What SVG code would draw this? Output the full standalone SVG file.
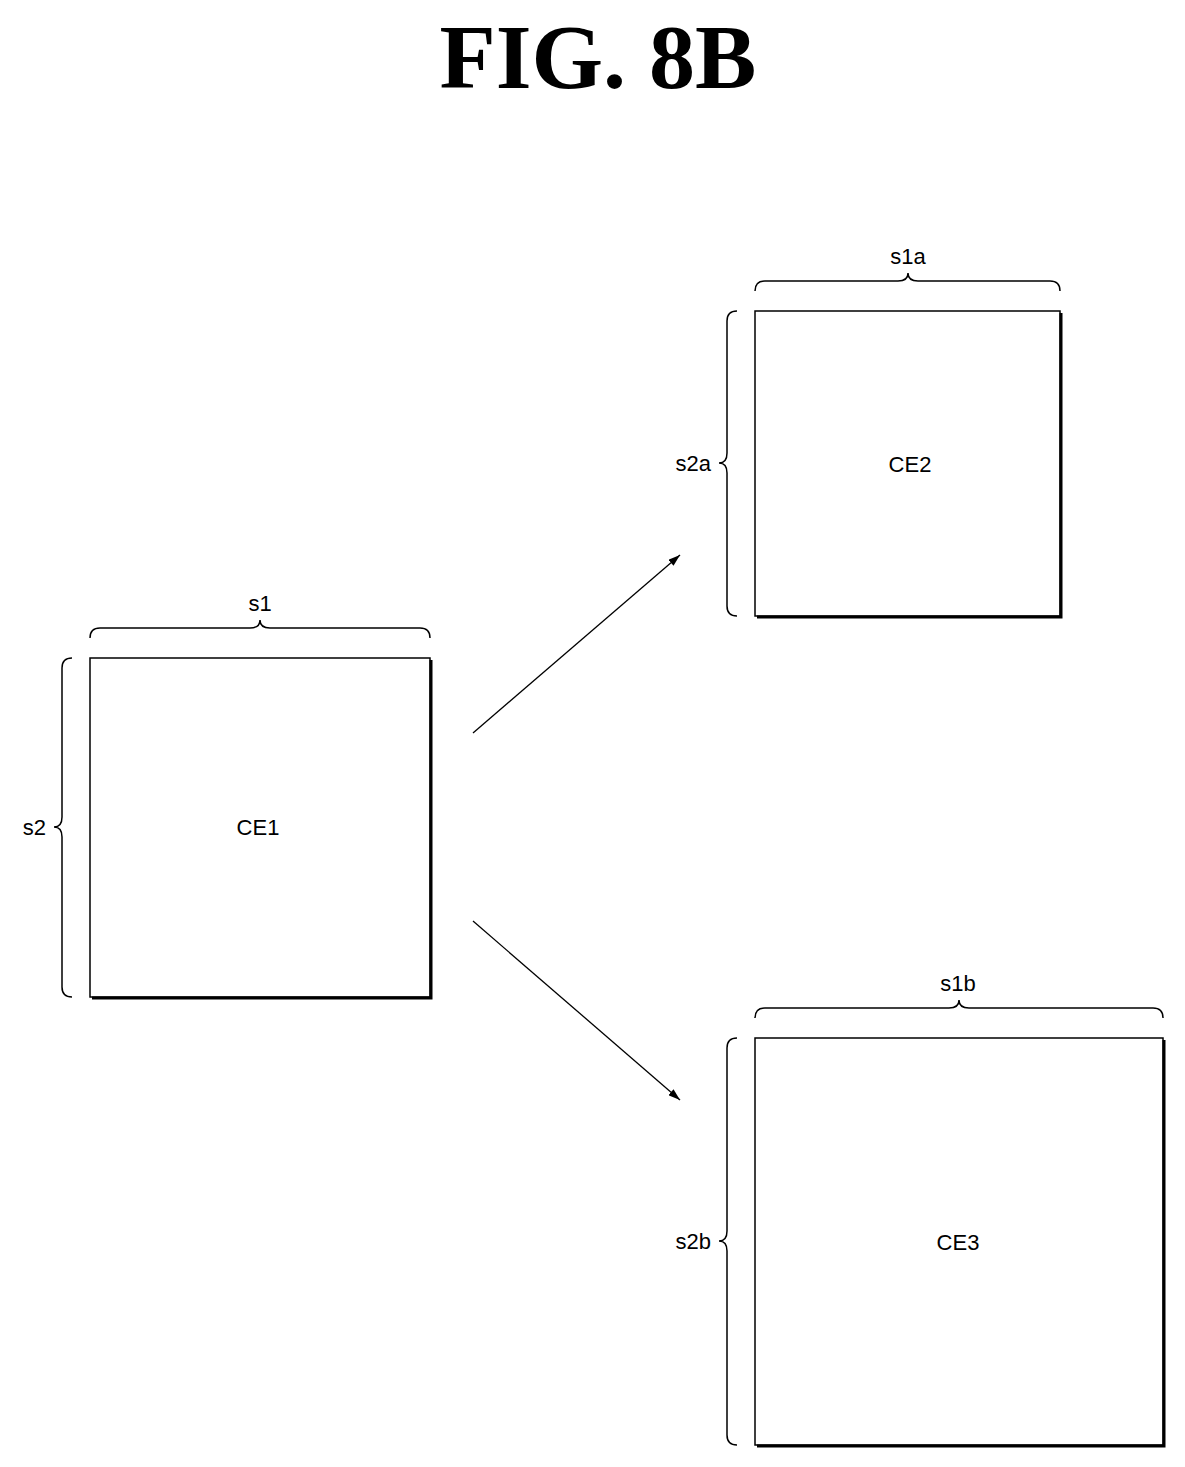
<svg xmlns="http://www.w3.org/2000/svg" width="1185" height="1467" viewBox="0 0 1185 1467">
<style>
.box{fill:#fff;stroke:#000;stroke-width:1.5}
.sh{fill:none;stroke:#000;stroke-width:3}
.br{fill:none;stroke:#000;stroke-width:1.5}
.lbl{font-family:"Liberation Sans",Arial,sans-serif;font-size:22px;fill:#000}
.ttl{font-family:"Liberation Serif","Times New Roman",serif;font-size:92px;font-weight:bold;fill:#000}
.cn{fill:none;stroke:#000;stroke-width:1.3}
</style>
<defs><marker id="ah" viewBox="0 0 12 8" refX="12" refY="4" markerWidth="12" markerHeight="8" orient="auto" markerUnits="userSpaceOnUse"><path d="M0,0 L12,4 L0,8 Z" fill="#000"/></marker></defs>
<rect width="1185" height="1467" fill="#fff"/>
<text class="ttl" x="598" y="88" text-anchor="middle">FIG. 8B</text>
<g id="CE1">
<rect class="box" x="90" y="658" width="340" height="339"/>
<path class="sh" d="M431,660 V998 H92"/>
<text class="lbl" x="258" y="835" text-anchor="middle">CE1</text>
<path class="br" d="M90,638 Q90,628 100,628 L250,628 Q260,628 260,620 Q260,628 270,628 L420,628 Q430,628 430,638"/>
<text class="lbl" x="260" y="611" text-anchor="middle">s1</text>
<path class="br" d="M72,658 Q62,658 62,668 L62,817 Q62,827 54,827 Q62,827 62,837 L62,987 Q62,997 72,997"/>
<text class="lbl" x="46" y="835" text-anchor="end">s2</text>
</g>
<g id="CE2">
<rect class="box" x="755" y="311" width="305" height="305"/>
<path class="sh" d="M1061,313 V617 H757"/>
<text class="lbl" x="910" y="472" text-anchor="middle">CE2</text>
<path class="br" d="M755,291 Q755,281 765,281 L898,281 Q908,281 908,273 Q908,281 918,281 L1050,281 Q1060,281 1060,291"/>
<text class="lbl" x="908" y="264" text-anchor="middle">s1a</text>
<path class="br" d="M737,311 Q727,311 727,321 L727,453 Q727,463 719,463 Q727,463 727,473 L727,606 Q727,616 737,616"/>
<text class="lbl" x="711" y="471" text-anchor="end">s2a</text>
</g>
<g id="CE3">
<rect class="box" x="755" y="1038" width="408" height="407"/>
<path class="sh" d="M1164,1040 V1446 H757"/>
<text class="lbl" x="958" y="1250" text-anchor="middle">CE3</text>
<path class="br" d="M755,1018 Q755,1008 765,1008 L949,1008 Q959,1008 959,1000 Q959,1008 969,1008 L1153,1008 Q1163,1008 1163,1018"/>
<text class="lbl" x="958" y="991" text-anchor="middle">s1b</text>
<path class="br" d="M737,1038 Q727,1038 727,1048 L727,1231 Q727,1241 719,1241 Q727,1241 727,1251 L727,1435 Q727,1445 737,1445"/>
<text class="lbl" x="711" y="1249" text-anchor="end">s2b</text>
</g>
<g id="connectors">
<line class="cn" x1="473" y1="733" x2="680" y2="555" marker-end="url(#ah)"/>
<line class="cn" x1="473" y1="921" x2="680" y2="1100" marker-end="url(#ah)"/>
</g>
</svg>
